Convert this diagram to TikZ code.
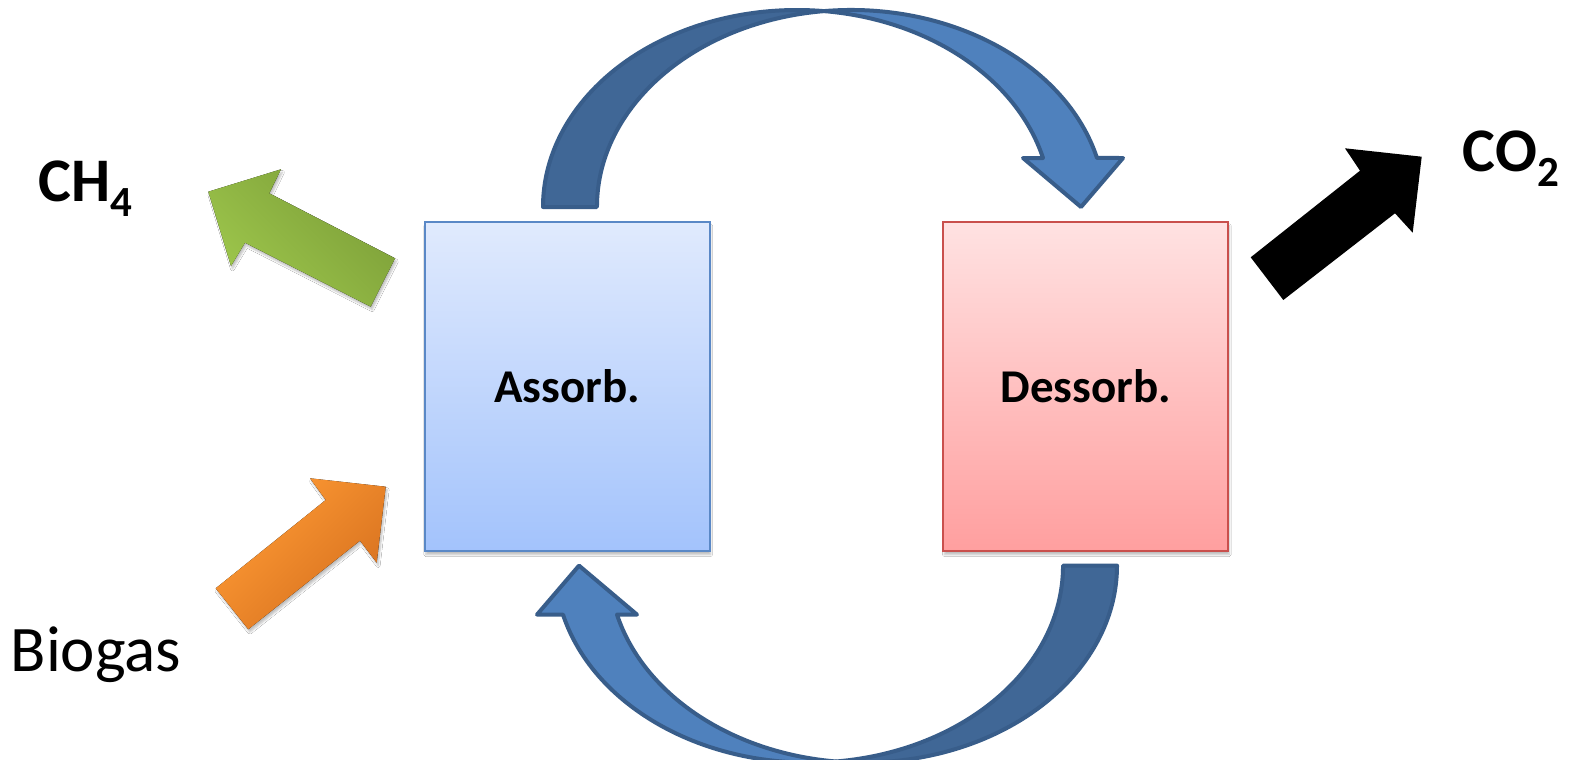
\documentclass[tikz,border=0pt]{standalone}
\usepackage{fontspec}
\setmainfont{Carlito}
\usetikzlibrary{shadows.blur}
\definecolor{cycLight}{HTML}{4F81BD}
\definecolor{cycDark}{HTML}{406796}
\definecolor{cycLine}{HTML}{385D8A}
\definecolor{absTop}{HTML}{E0EAFD}
\definecolor{absBot}{HTML}{A3C3FC}
\definecolor{absLine}{HTML}{5A88C6}
\definecolor{desTop}{HTML}{FFE2E2}
\definecolor{desBot}{HTML}{FF9F9F}
\definecolor{desLine}{HTML}{C9504D}
\definecolor{grnLight}{HTML}{9EC74C}
\definecolor{grnDark}{HTML}{7C9E38}
\definecolor{orgLight}{HTML}{FF9B35}
\definecolor{orgDark}{HTML}{D6701E}
\newcommand{\cyclearrowshape}{%
  \filldraw[cycpart, fill=cycDark] (543,207)
    arc[start angle=180, end angle=276.1, x radius=254, y radius=197]
    arc[start angle=263.9, end angle=180, x radius=254, y radius=197] -- cycle;
  \filldraw[cycpart, fill=cycLight] (824,11.1)
    arc[start angle=263.9, end angle=345.6, x radius=254, y radius=197]
    -- (1123,158) -- (1081,207) -- (1023,158) -- (1043,158)
    arc[start angle=345.6, end angle=276.1, x radius=254, y radius=197] -- cycle;
}
\begin{document}
\begin{tikzpicture}[x=1pt,y=-1pt,
  cycpart/.style={draw=cycLine, line width=4pt, line join=round},
  procbox/.style={minimum width=285pt, minimum height=329pt, inner sep=0pt, line width=2pt,
    font=\fontsize{47}{47}\selectfont\bfseries,
    blur shadow={shadow xshift=1pt, shadow yshift=-4pt, shadow opacity=25, shadow blur steps=6}},
  blockshadow/.style={blur shadow={shadow xshift=1.5pt, shadow yshift=-3pt, shadow opacity=25, shadow blur steps=5}},
  bigtxt/.style={anchor=base west, inner sep=0pt, font=\fontsize{62}{62}\selectfont\bfseries}
]
\useasboundingbox (0,0) rectangle (1571,760);
\fill[white] (0,0) rectangle (1571,760);

% cycle arrows
\cyclearrowshape
\begin{scope}[rotate around={180:(830,386.3)}]
\cyclearrowshape
\end{scope}

% process boxes
\node[procbox, draw=absLine, top color=absTop, bottom color=absBot] (assorb) at (567.3,386.2) {Assorb.};
\node[procbox, draw=desLine, top color=desTop, bottom color=desBot] (dessorb) at (1085.8,386.2) {Dessorb.};

% block arrows
\fill[blockshadow, shading=axis, top color=grnDark, bottom color=grnLight, shading angle=-45]
  (208.3,191.7) -- (281,169.3) -- (269.3,193.3) -- (395,258.3)
  -- (370.7,306.7) -- (245,242.7) -- (231,266) -- cycle;
\fill[blockshadow, shading=axis, top color=orgLight, bottom color=orgDark, shading angle=45]
  (215.7,588.3) -- (248.3,629.3) -- (360,540.7) -- (376.7,562.7)
  -- (385.7,486.7) -- (310,478.3) -- (325.7,500) -- cycle;
\fill[black] (1250.7,257.3) -- (1283.3,300) -- (1395,213.3) -- (1412.7,232.7)
  -- (1421.7,156.7) -- (1345,148.3) -- (1360,170.7) -- cycle;

% labels
\node[bigtxt] (ch4) at (38.5,201.7) {CH\raisebox{-15pt}{\fontsize{43}{43}\selectfont 4}};
\node[bigtxt] (co2) at (1462.5,171.7) {CO\raisebox{-15pt}{\fontsize{43}{43}\selectfont 2}};
\node[anchor=base west, inner sep=0pt, font=\fontsize{65}{65}\selectfont] (biogas) at (10.5,671.7) {Biogas};
\end{tikzpicture}
\end{document}
